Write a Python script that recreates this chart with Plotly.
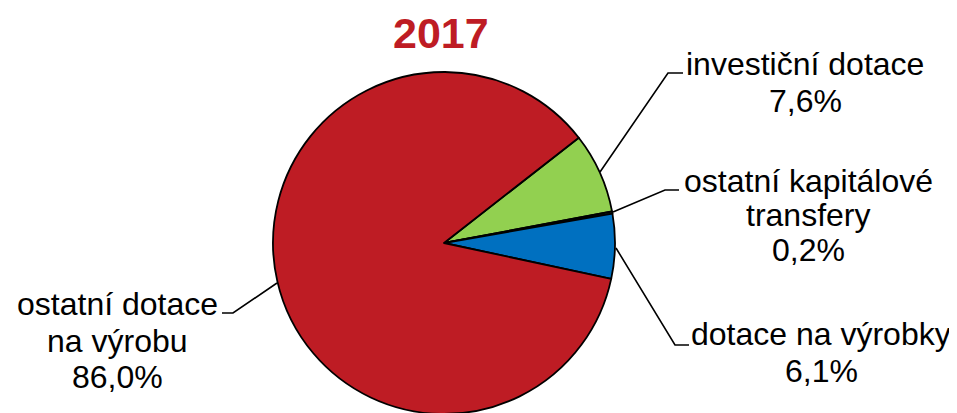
import plotly.graph_objects as go

# ---- data ----
categories = ["investiční dotace", "ostatní kapitálové transfery", "dotace na výrobky", "ostatní dotace na výrobu"]
values = [7.6, 0.2, 6.1, 86.0]
colors = ["#92D050", "#375623", "#0070C0", "#BE1C24"]
title_text = "2017"

label_lines = [
    ["investiční dotace", "7,6%"],
    ["ostatní kapitálové", "transfery", "0,2%"],
    ["dotace na výrobky", "6,1%"],
    ["ostatní dotace", "na výrobu", "86,0%"],
]

W, H = 957, 413
OFF = 8  # page body margin in the browser

# ---- layout helpers (screen pixel -> paper) ----
def px(x):
    return (x - OFF) / W

def py(y):
    return 1 - (y - OFF) / H

# label placement: (center x, [center y of each line])
label_pos = [
    (805, [64, 101]),
    (808, [181, 215, 250]),
    (821, [334, 371]),
    (117, [304, 341, 377]),
]

# leader lines in screen pixel coordinates
leaders = [
    [(600, 172), (668, 73), (683, 73)],
    [(613, 212), (665, 190), (679, 190)],
    [(616, 248), (675, 345), (689, 345)],
    [(277, 283), (233, 313), (222, 313)],
]

PIE_CX, PIE_CY, PIE_R = 444, 243, 171

fig = go.Figure()
fig.add_trace(go.Pie(
    labels=categories,
    values=values,
    sort=False,
    direction="clockwise",
    rotation=52,
    textinfo="none",
    hoverinfo="label+percent",
    marker=dict(colors=colors, line=dict(color="black", width=1.8)),
    domain=dict(x=[px(PIE_CX - PIE_R), px(PIE_CX + PIE_R)],
                y=[py(PIE_CY + PIE_R), py(PIE_CY - PIE_R)]),
    showlegend=False,
))

annotations = []
for (cx, ys), lines in zip(label_pos, label_lines):
    for yy, t in zip(ys, lines):
        annotations.append(dict(
            text=t, x=px(cx), y=py(yy), xref="paper", yref="paper",
            xanchor="center", yanchor="middle", showarrow=False,
            font=dict(family="Liberation Sans, Arial, sans-serif", size=32, color="black"),
        ))

annotations.append(dict(
    text="<b>" + title_text + "</b>", x=px(441), y=py(33), xref="paper", yref="paper",
    xanchor="center", yanchor="middle", showarrow=False,
    font=dict(family="Liberation Sans, Arial, sans-serif", size=43, color="#BE1C24"),
))

shapes = []
for pts in leaders:
    path = "M " + " L ".join(f"{px(x)},{py(y)}" for x, y in pts)
    shapes.append(dict(type="path", path=path, xref="paper", yref="paper",
                       line=dict(color="black", width=1.6)))

fig.update_layout(
    width=W, height=H,
    margin=dict(l=0, r=0, t=0, b=0),
    paper_bgcolor="white", plot_bgcolor="white",
    annotations=annotations,
    shapes=shapes,
)

fig.write_html("out.html")
